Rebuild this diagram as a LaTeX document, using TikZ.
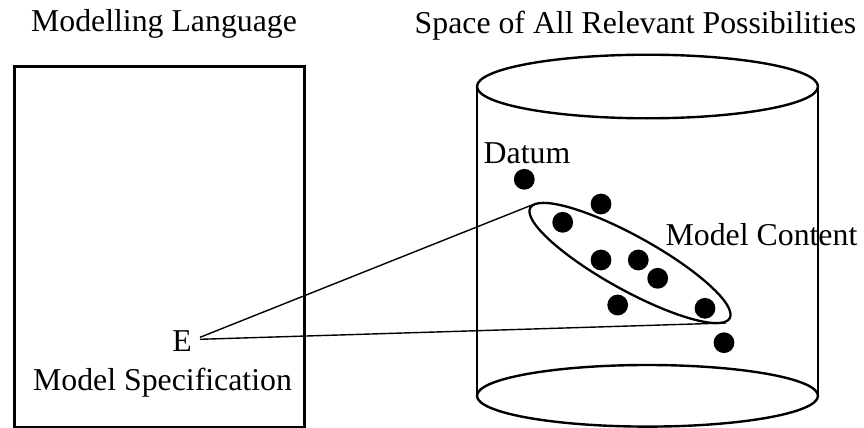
\documentclass[tikz,border=0pt]{standalone}
\usepackage{fontspec}
\setmainfont{Liberation Serif}
\usetikzlibrary{shapes.geometric}
\begin{document}
\begin{tikzpicture}[x=0.5pt,y=-0.5pt,
  lbl/.style={anchor=base, inner sep=0pt, font=\fontsize{15.9}{19}\selectfont},
  dot/.style={circle, fill=black, inner sep=0pt, minimum size=10.4pt},
  heavy/.style={line width=1.35pt},
  rim/.style={line width=1.2pt},
  conn/.style={line width=0.7pt}]
\useasboundingbox (0,0) rectangle (864,428);
% modelling language box
\node[draw, heavy, minimum width=145pt, minimum height=180.35pt, inner sep=0pt, anchor=north west] (lang) at (13.3,65) {};
% cylinder
\draw[rim] (647.5,86.5) ellipse [x radius=85.25pt, y radius=15.9pt];
\draw[rim] (647.5,395.8) ellipse [x radius=85.25pt, y radius=15.4pt];
\draw[heavy] (477,86.5) -- (477,395.8);
\draw[heavy] (818,86.5) -- (818,395.8);
% titles
\node[lbl] (tl) at (164,31.7) {Modelling Language};
\node[lbl] (tr) at (635.5,33.5) {Space of All Relevant Possibilities};
\node[lbl] (datum) at (527,163) {Datum};
\node[lbl] (mct) at (761.5,245.7) {Model Content};
\node[lbl] (E) at (182,351.7) {E};
\node[lbl] (spec) at (162.5,390) {Model Specification};
% dots
\node[dot] (d1) at (524.3,179.3) {};
\node[dot] (d2) at (601,204) {};
\node[dot] (d3) at (562.7,222.3) {};
\node[dot] (d4) at (601,260) {};
\node[dot] (d5) at (638.3,260) {};
\node[dot] (d6) at (657.7,278.3) {};
\node[dot] (d7) at (617.7,305) {};
\node[dot] (d8) at (705,308.3) {};
\node[dot] (d9) at (724,342.7) {};
% model content ellipse
\node[draw, ellipse, rim, line width=1.15pt, rotate=-29, minimum width=114pt, minimum height=27pt, inner sep=0pt] (mc) at (630,263) {};
% connectors
\coordinate (Eu) at (200,337.3);
\coordinate (El) at (200,339.3);
\coordinate (mcU) at (532,205);
\coordinate (mcL) at (726,323);
\draw[conn] (Eu) -- (mcU);
\draw[conn] (El) -- (mcL);
\end{tikzpicture}
\end{document}
